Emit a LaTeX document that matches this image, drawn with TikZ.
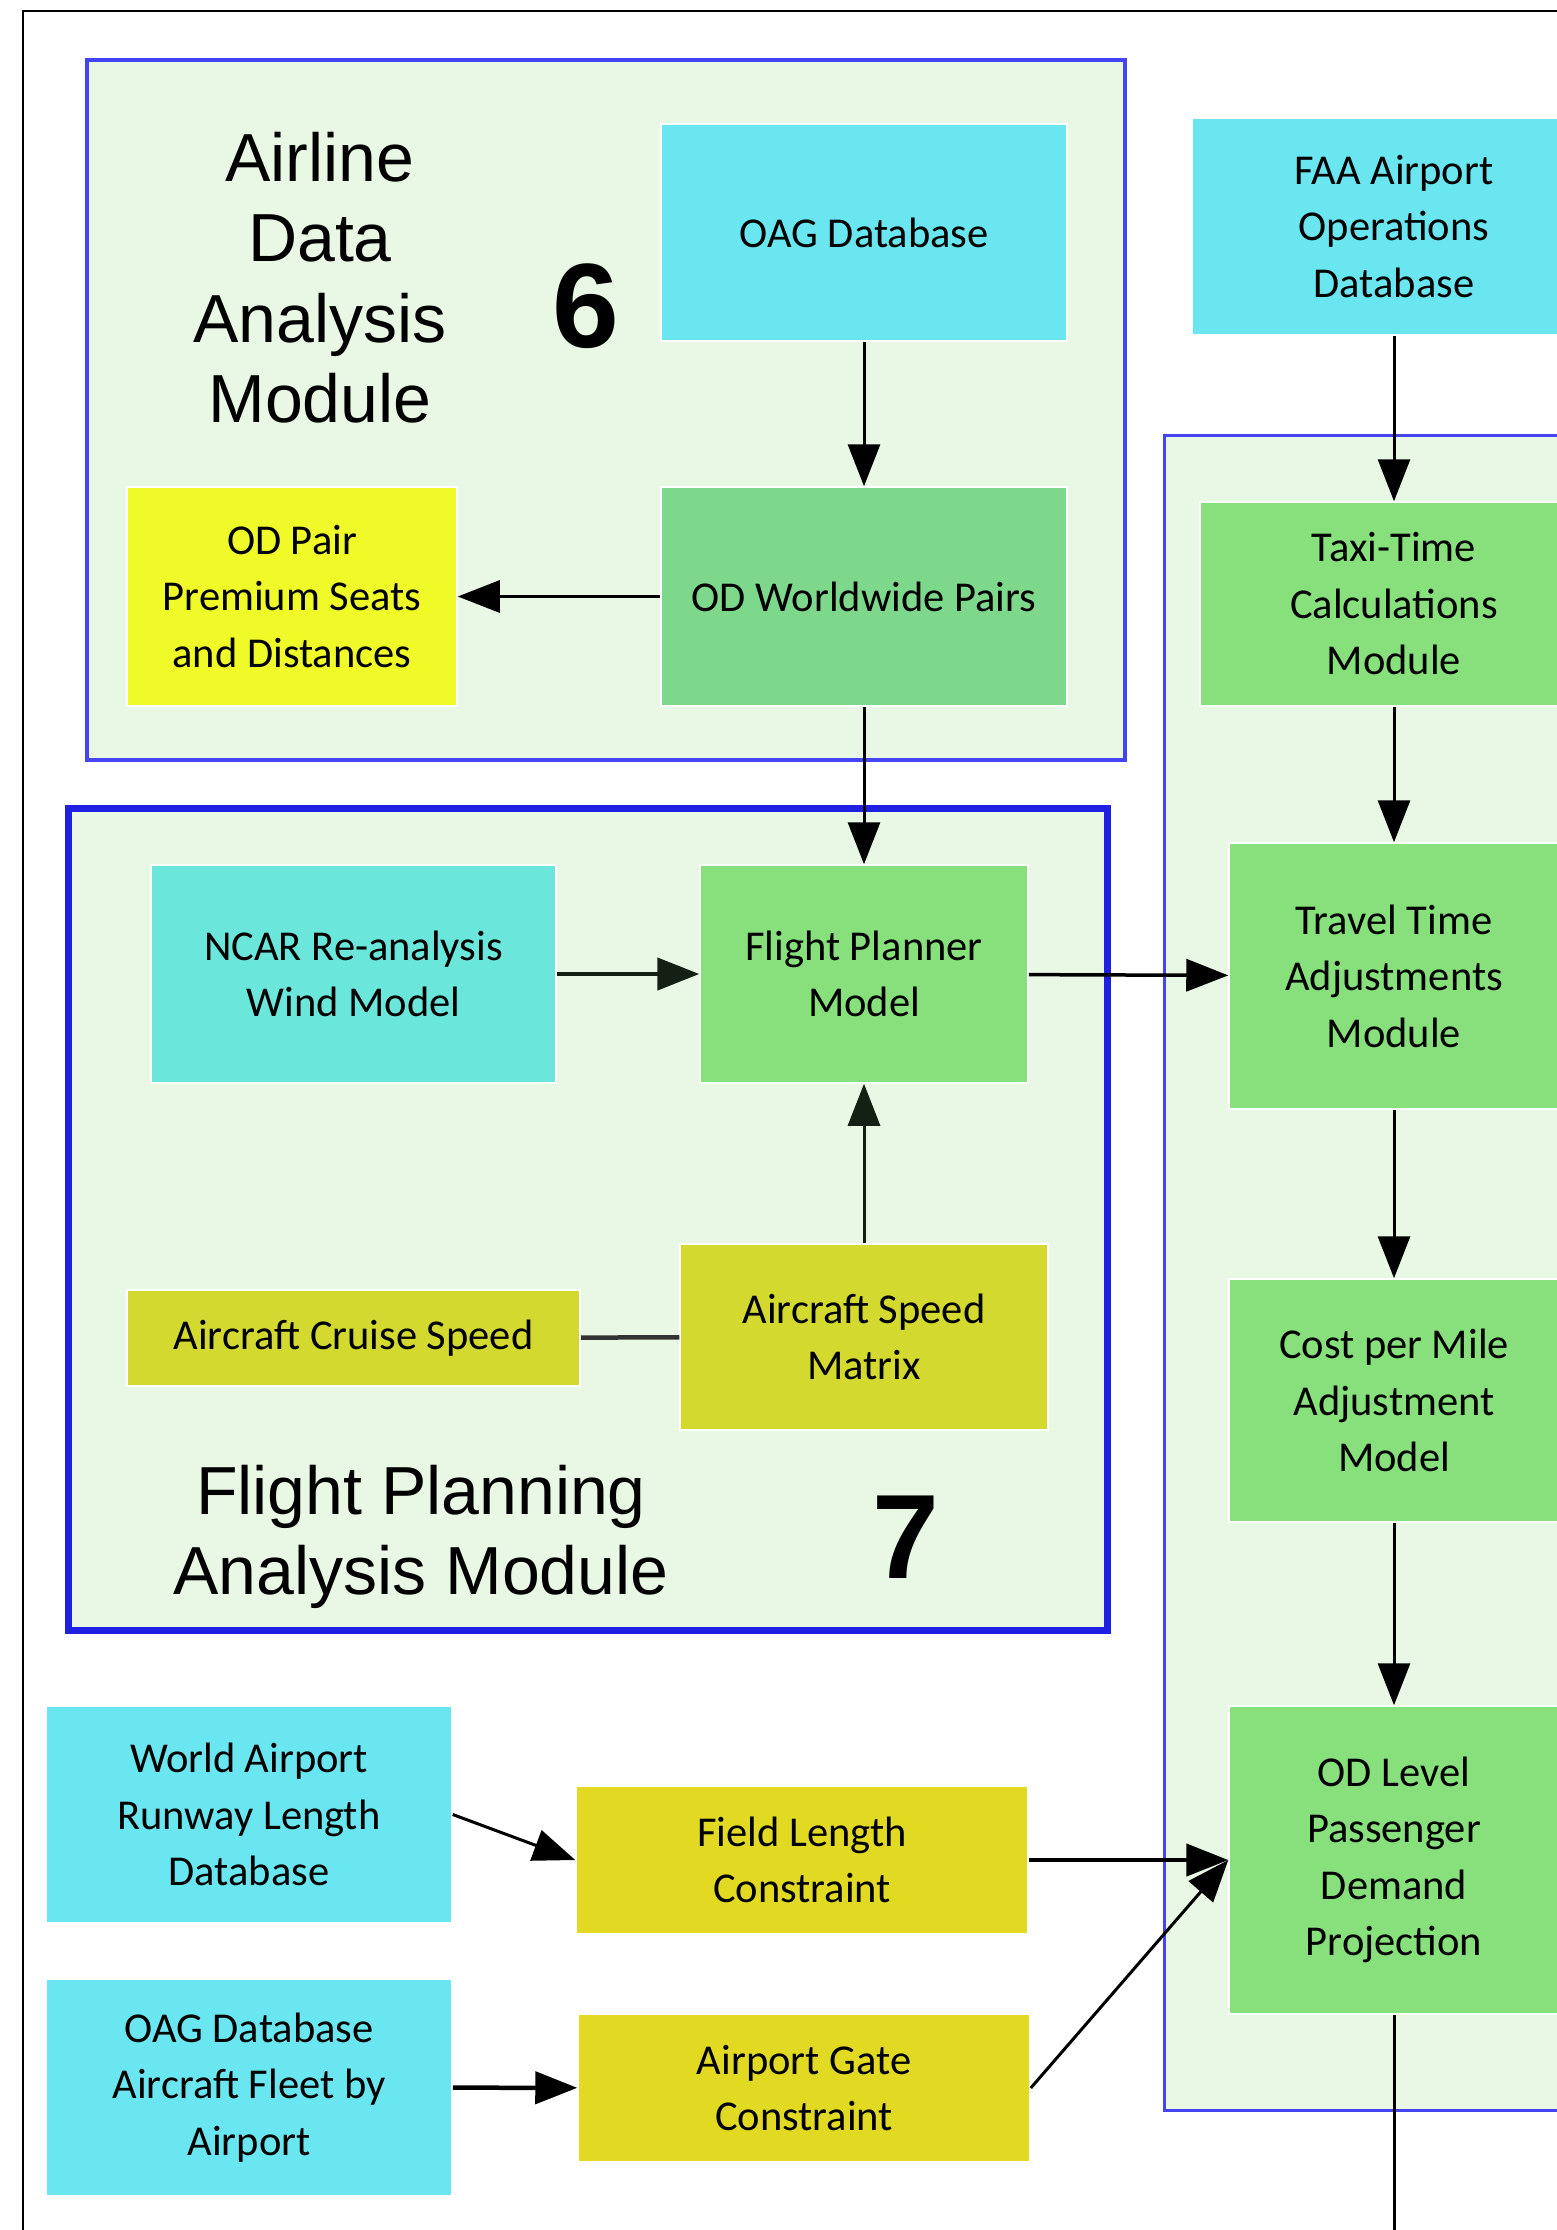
\documentclass[tikz,border=0pt]{standalone}
\usepackage{fontspec}
\setmainfont{Carlito}
\newfontfamily\headfont{Liberation Sans}
\usetikzlibrary{arrows.meta}

\definecolor{modbg}{HTML}{E9F8E4}
\definecolor{modblue}{HTML}{4444F2}
\definecolor{modbluedark}{HTML}{2020E2}
\definecolor{dbcyan}{HTML}{6AE6F0}
\definecolor{windteal}{HTML}{6BE6DB}
\definecolor{pairgreen}{HTML}{7ED88C}
\definecolor{stepgreen}{HTML}{88E07C}
\definecolor{brightyellow}{HTML}{F0FA28}
\definecolor{oliveyellow}{HTML}{D3D92E}
\definecolor{constraintyellow}{HTML}{E2DA22}
\definecolor{darkline}{HTML}{142014}

\begin{document}
\begin{tikzpicture}[x=1pt,y=-1pt,
  box/.style={rectangle, inner sep=0pt, draw=white, line width=1.5pt,
    align=center, text=black, font=\fontsize{42.5}{56.5}\selectfont},
  module/.style={fill=modbg, draw=modblue, line width=4.5pt},
  heading/.style={inner sep=0pt, align=center, text=black,
    font=\headfont\fontsize{68}{80.5}\selectfont},
  modnum/.style={inner sep=0pt, anchor=base, text=black,
    font=\headfont\bfseries\fontsize{120}{120}\selectfont},
  link/.style={line width=3pt, draw=black, -{Triangle[length=42pt,width=32pt]}},
  heavylink/.style={link, line width=4.5pt},
  plain/.style={line width=4.5pt, draw=black!80}]

\useasboundingbox (0,0) rectangle (1557,2230);
\clip (0,0) rectangle (1557,2230);

% page frame (left and top edges)
\draw[line width=2.5pt] (23,2240) -- (23,11) -- (1570,11);

% module panels
\draw[module] (87,60) rectangle (1125,760);
\draw[module, draw=modbluedark, line width=7pt] (68,808) rectangle (1107,1630);
\draw[module, line width=3pt] (1164,435) rectangle (1600,2110);

% module 6: airline data analysis
\node[heading, anchor=north] (head6) at (320,132) {Airline\\Data\\Analysis\\Module};
\node[modnum] (num6) at (586,347) {6};
\node[box, fill=dbcyan, minimum width=406pt, minimum height=217pt] (oag) at (864,232.5) {OAG Database};
\node[box, fill=pairgreen, minimum width=406pt, minimum height=219pt] (odw) at (864,596.5) {OD Worldwide Pairs};
\node[box, fill=brightyellow, minimum width=330pt, minimum height=219pt] (odp) at (292,596.5) {OD Pair\\Premium Seats\\and Distances};

% module 7: flight planning analysis
\node[box, fill=windteal, minimum width=405pt, minimum height=218pt] (ncar) at (353.5,974) {NCAR Re-analysis\\Wind Model};
\node[box, fill=stepgreen, minimum width=328pt, minimum height=218pt] (fpm) at (864,974) {Flight Planner\\Model};
\node[box, fill=oliveyellow, minimum width=453pt, minimum height=96pt] (cruise) at (353.5,1338) {Aircraft Cruise Speed};
\node[box, fill=oliveyellow, minimum width=368pt, minimum height=186pt] (speed) at (864,1337) {Aircraft Speed\\Matrix};
\node[heading, anchor=north, font=\headfont\fontsize{68}{80}\selectfont] (head7) at (421,1465) {Flight Planning\\Analysis Module};
\node[modnum] (num7) at (906,1578) {7};

% right-hand chain
\node[box, fill=dbcyan, minimum width=404pt, minimum height=217pt] (faa) at (1394,226.5) {FAA Airport\\Operations\\Database};
\node[box, fill=stepgreen, minimum width=388pt, minimum height=204pt] (taxi) at (1394,604) {Taxi-Time\\Calculations\\Module};
\node[box, fill=stepgreen, minimum width=330pt, minimum height=266pt] (travel) at (1394,976) {Travel Time\\Adjustments\\Module};
\node[box, fill=stepgreen, minimum width=330pt, minimum height=243pt] (cost) at (1394,1400.5) {Cost per Mile\\Adjustment\\Model};
\node[box, fill=stepgreen, minimum width=330pt, minimum height=308pt] (odl) at (1394,1860) {OD Level\\Passenger\\Demand\\Projection};

% constraint inputs
\node[box, fill=dbcyan, minimum width=406pt, minimum height=217pt] (runway) at (249,1814.5) {World Airport\\Runway Length\\Database};
\node[box, fill=constraintyellow, minimum width=452pt, minimum height=148pt] (field) at (802,1860) {Field Length\\Constraint};
\node[box, fill=dbcyan, minimum width=406pt, minimum height=217pt] (fleet) at (249,2087.5) {OAG Database\\Aircraft Fleet by\\Airport};
\node[box, fill=constraintyellow, minimum width=452pt, minimum height=148pt] (gate) at (804,2088) {Airport Gate\\Constraint};

\coordinate (exit) at (1394,2245);

% connectors
\draw[link] (oag) -- (odw);
\draw[link] (odw) -- (odp);
\draw[link] (odw) -- (fpm);
\draw[heavylink, draw=darkline] (ncar) -- (fpm);
\draw[link, draw=darkline] (speed) -- (fpm);
\draw[plain] (cruise) -- (speed);
\draw[link, line width=3.5pt] (fpm) -- (travel);
\draw[link] (faa) -- (taxi);
\draw[link] (taxi) -- (travel);
\draw[link] (travel) -- (cost);
\draw[link] (cost) -- (odl);
\draw[line width=3pt] (odl) -- (exit);
\draw[link] (runway.east) -- (field.west);
\draw[heavylink] (field) -- (odl.west);
\draw[heavylink] (fleet) -- (gate);
\draw[link] (gate.east) -- (odl.west);
\end{tikzpicture}
\end{document}
